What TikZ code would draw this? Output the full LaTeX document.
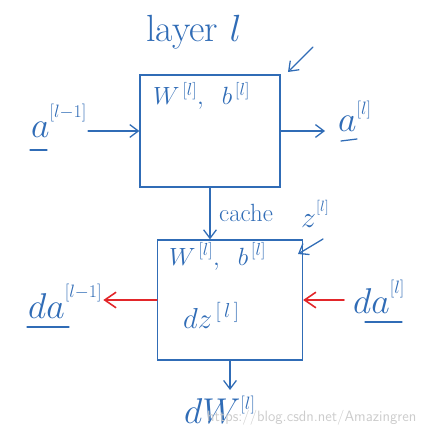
\RequirePackage{fix-cm}
\documentclass[tikz,border=0pt]{standalone}
\usepackage{amsmath}
\usepackage{tikz}
\usetikzlibrary{arrows.meta,positioning}
\definecolor{penblue}{RGB}{48,108,182}
\definecolor{penred}{RGB}{226,38,42}
\newcommand{\lsup}[2][10pt]{^{\raisebox{#1}{$\scriptscriptstyle[#2]$}}}

\begin{document}
\begin{tikzpicture}[
  x=1bp,y=-1bp,
  pen/.style={draw=penblue,line width=1.3pt,line cap=round},
  block/.style={pen,inner sep=0pt},
  lbl/.style={text=penblue,inner sep=1pt,anchor=base west,font=\fontsize{36}{42}\selectfont},
  small/.style={text=penblue,inner sep=1pt,anchor=base west,font=\fontsize{25}{30}\selectfont},
  arrow/.style={pen,-{Straight Barb[length=3mm,width=4.5mm]}},
  back/.style={draw=penred,line width=1.6pt,line cap=round,-{Straight Barb[length=4mm,width=5.5mm]}}
]
\useasboundingbox (0,0) rectangle (446,433);
% forward block
\node[block,minimum width=140bp,minimum height=112bp] (fwd) at (210,131) {};
\node[lbl,font=\fontsize{38}{44}\selectfont] (layer) at (145,42) {layer $l$};
\node[small] (wbf) at (152,105) {$W^{\,[l]},\;\; b^{\,[l]}$};
\node[lbl] (ain) at (30,138) {$a\lsup[8pt]{l-1}$};
\node[lbl] (aout) at (337,132) {$a\lsup[5pt]{l}$};
\coordinate (fin1) at (313,47);
\coordinate (fin2) at (288,72);
\draw[arrow] (ain.east |- fwd.west) -- (fwd.west);
\draw[arrow] (fwd.east) -- ([xshift=-12bp]fwd.east -| aout.west);
\draw[arrow] (fin1) -- (fin2);
\draw[pen] ([yshift=-12bp]ain.base west) -- ++(17,0);
\draw[pen] ([yshift=-9bp,xshift=4bp]aout.base west) -- ++(16,-2);
% backward block
\node[block,minimum width=145bp,minimum height=120bp] (bwd) at (230,300) {};
\node[small] (cache) at (218,222) {cache};
\node[lbl,font=\fontsize{30}{36}\selectfont] (zl) at (300,227) {$z\lsup[5pt]{l}$};
\node[small] (wbb) at (168,265) {$W^{\,[l]},\;\; b^{\,[l]}$};
\node[lbl,font=\fontsize{29}{34}\selectfont] (dz) at (182,328) {$dz^{\,[\,l\,]}$};
\node[lbl] (dal) at (27,318) {$da\lsup[8pt]{l-1}$};
\node[lbl] (dar) at (352,313) {$da\lsup[7pt]{l}$};
\node[lbl] (dW) at (183,423) {$dW\lsup[0pt]{l}$};
\node[anchor=base west,text=gray!40,inner sep=0pt,font=\sffamily\fontsize{15}{18}\selectfont] (mark) at (207,421) {https://blog.csdn.net/Amazingren};
\coordinate (zin1) at (323,239);
\coordinate (zin2) at (298,254);
\draw[arrow] (fwd.south) -- (fwd.south |- bwd.north);
\draw[arrow] (zin1) -- (zin2);
\draw[back] (bwd.west) -- (bwd.west -| dal.east);
\draw[back] ([xshift=-8bp]dar.west |- bwd.east) -- (bwd.east);
\draw[arrow] (bwd.south) -- (bwd.south |- 0,390);
\draw[pen] ([yshift=-9bp]dal.base west) -- ++(42,0);
\draw[pen] ([yshift=-9bp,xshift=13bp]dar.base west) -- ++(37,0);
\end{tikzpicture}
\end{document}
